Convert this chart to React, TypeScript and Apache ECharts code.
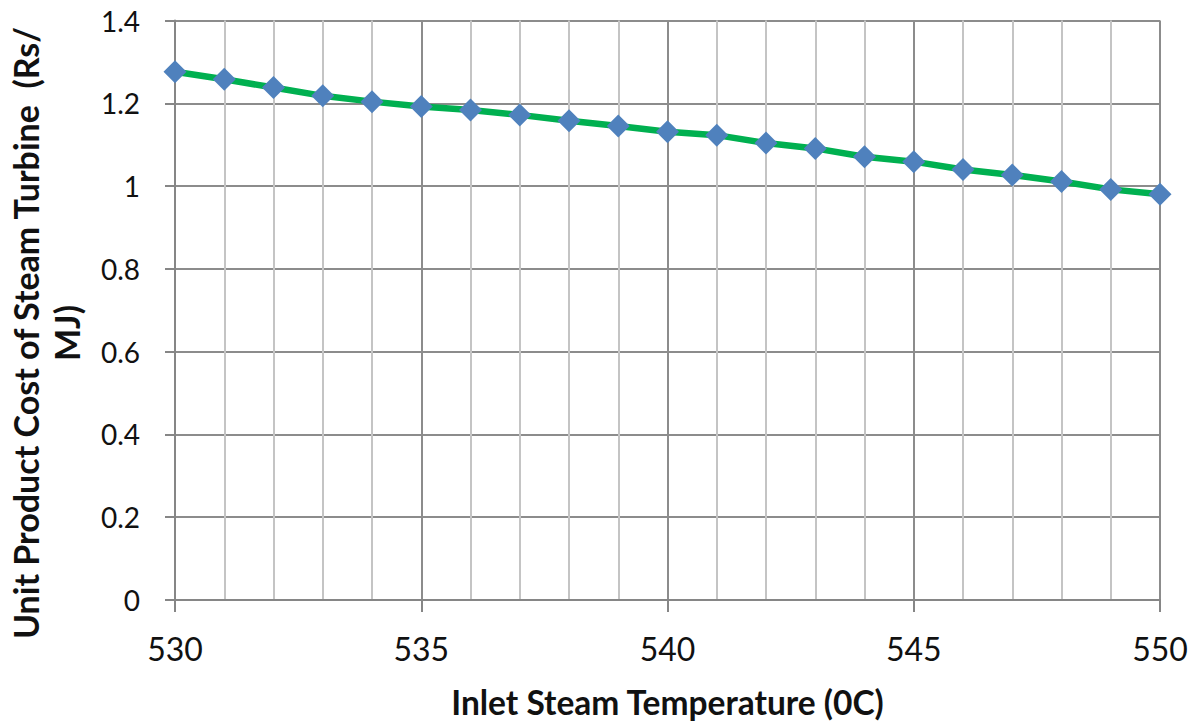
import React, { useEffect, useRef } from "react";
import * as echarts from "echarts";

const temperatures = [530, 531, 532, 533, 534, 535, 536, 537, 538, 539, 540, 541, 542, 543, 544, 545, 546, 547, 548, 549, 550];
const unitCost = [1.276, 1.258, 1.238, 1.218, 1.204, 1.192, 1.184, 1.172, 1.158, 1.145, 1.131, 1.123, 1.104, 1.091, 1.071, 1.059, 1.04, 1.027, 1.011, 0.992, 0.98];
const xTitle = "Inlet Steam Temperature (0C)";
const yTitle = "Unit Product Cost of Steam Turbine  (Rs/\nMJ)";

export default function App() {
  const ref = useRef<HTMLDivElement>(null);
  useEffect(() => {
    if (!ref.current) return;
    const chart = echarts.init(ref.current, undefined, { renderer: "svg" });
    const font = "Lato, 'Open Sans', sans-serif";
    chart.setOption({
      animation: false,
      backgroundColor: "#ffffff",
      grid: { left: 175, right: 33, top: 20.5, bottom: 121, outerBoundsMode: "none", containLabel: false },
      graphic: [
        {
          type: "text",
          x: 45.5,
          y: 333,
          rotation: Math.PI / 2,
          style: {
            text: yTitle,
            fontFamily: font,
            fontWeight: "bold",
            fontSize: 34,
            lineHeight: 41,
            fill: "#111",
            align: "center",
            verticalAlign: "middle",
          },
        },
      ],
      xAxis: {
        type: "value",
        min: 530,
        max: 550,
        interval: 5,
        name: xTitle,
        nameLocation: "middle",
        nameGap: 85,
        nameTextStyle: { fontFamily: font, fontWeight: "bold", fontSize: 33.5, color: "#111" },
        axisLine: { show: true, lineStyle: { color: "#868686", width: 2 } },
        axisTick: { show: true, length: 12, lineStyle: { color: "#868686", width: 2 } },
        axisLabel: { fontFamily: font, fontSize: 32, color: "#111", margin: 32 },
        splitLine: { show: true, lineStyle: { color: "#8c8c8c", width: 2 } },
        minorTick: { show: false, splitNumber: 5 },
        minorSplitLine: { show: true, lineStyle: { color: "#c4c4c4", width: 2 } },
      },
      yAxis: {
        type: "value",
        min: 0,
        max: 1.4,
        interval: 0.2,
        axisLine: { show: true, lineStyle: { color: "#868686", width: 2 } },
        axisTick: { show: true, length: 10, lineStyle: { color: "#868686", width: 2 } },
        axisLabel: {
          fontFamily: font,
          fontSize: 28,
          color: "#111",
          margin: 35,
          formatter: (v: number) => String(Math.round(v * 10) / 10),
        },
        splitLine: { show: true, lineStyle: { color: "#8c8c8c", width: 2 } },
      },
      series: [
        {
          type: "line",
          data: temperatures.map((t, i) => [t, unitCost[i]]),
          lineStyle: { color: "#00B050", width: 6.5 },
          symbol: "diamond",
          symbolSize: 23,
          itemStyle: { color: "#4F81BD" },
          z: 3,
        },
      ],
    });
    return () => chart.dispose();
  }, []);
  return <div ref={ref} style={{ position: "absolute", left: 0, top: 0, width: 1193, height: 721 }} />;
}
